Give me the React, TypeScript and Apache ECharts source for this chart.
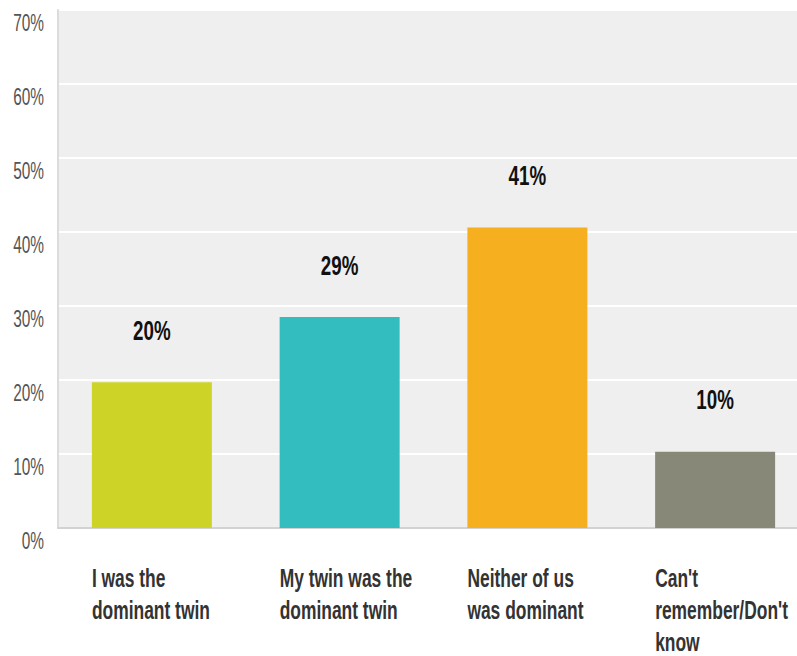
import React, { useEffect, useRef } from "react";
import * as echarts from "echarts";

const categories = [
  "I was the\ndominant twin",
  "My twin was the\ndominant twin",
  "Neither of us\nwas dominant",
  "Can't\nremember/Don't\nknow",
];
const values = [19.7, 28.5, 40.6, 10.3];
const valueLabels = ["20%", "29%", "41%", "10%"];
const colors = ["#CED427", "#33BDBE", "#F6AF1F", "#878878"];
const yTicks = [0, 10, 20, 30, 40, 50, 60, 70];

const FONT = "'Liberation Sans', Arial, sans-serif";
const SQUEEZE = 0.67;

function condenseTexts(root: HTMLElement | null) {
  if (!root) return;
  root.querySelectorAll("text").forEach((t: any) => {
    if (t.getAttribute("data-cond")) return;
    const len = t.getComputedTextLength();
    if (!len) return;
    t.setAttribute("textLength", String(len * SQUEEZE));
    t.setAttribute("lengthAdjust", "spacingAndGlyphs");
    t.setAttribute("data-cond", "1");
  });
}

export default function App() {
  const ref = useRef<HTMLDivElement>(null);
  useEffect(() => {
    document.body.style.margin = "0";
    const chart = echarts.init(ref.current!, null, { renderer: "svg" });
    chart.on("finished", () => condenseTexts(ref.current));
    chart.setOption({
      animation: false,
      backgroundColor: "#ffffff",
      grid: {
        left: 58,
        top: 10,
        width: 751,
        bottom: 128,
        containLabel: false,
        outerBoundsMode: "none",
        show: true,
        backgroundColor: "#EFEFEF",
        borderWidth: 0,
      },
      xAxis: {
        type: "category",
        data: categories,
        axisTick: { show: false },
        axisLine: { show: true, lineStyle: { color: "#D2D2D2", width: 2 } },
        axisLabel: {
          margin: 34,
          interval: 0,
          formatter: (v: string) =>
            v.split("\n").map((l) => "{a|" + l + "}").join("\n"),
          rich: {
            a: {
              width: 120,
              align: "left",
              fontFamily: FONT,
              fontWeight: "bold",
              fontSize: 26,
              lineHeight: 32,
              color: "#333333",
            },
          },
        },
      },
      yAxis: {
        type: "value",
        min: 0,
        max: yTicks[yTicks.length - 1],
        interval: 10,
        axisLine: { show: true, lineStyle: { color: "#DCDCDC", width: 2 } },
        axisTick: { show: false },
        splitLine: { show: true, lineStyle: { color: "#FFFFFF", width: 2 } },
        axisLabel: {
          margin: 14,
          verticalAlign: "top",
          lineHeight: 26,
          formatter: (v: number) => v + "%",
          fontFamily: FONT,
          fontSize: 23,
          color: "#555555",
        },
      },
      series: [
        {
          type: "bar",
          barWidth: 120,
          data: values.map((v, i) => ({ value: v, itemStyle: { color: colors[i] } })),
          label: {
            show: true,
            position: "top",
            distance: 38,
            formatter: (p: any) => valueLabels[p.dataIndex],
            fontFamily: FONT,
            fontWeight: "bold",
            fontSize: 28,
            color: "#111111",
          },
        },
      ],
    });
    const raf = requestAnimationFrame(() => condenseTexts(ref.current));
    const tm = setTimeout(() => condenseTexts(ref.current), 50);
    return () => {
      cancelAnimationFrame(raf);
      clearTimeout(tm);
      chart.dispose();
    };
  }, []);
  return <div ref={ref} style={{ position: "fixed", left: 0, top: 0, width: 797, height: 656 }} />;
}
